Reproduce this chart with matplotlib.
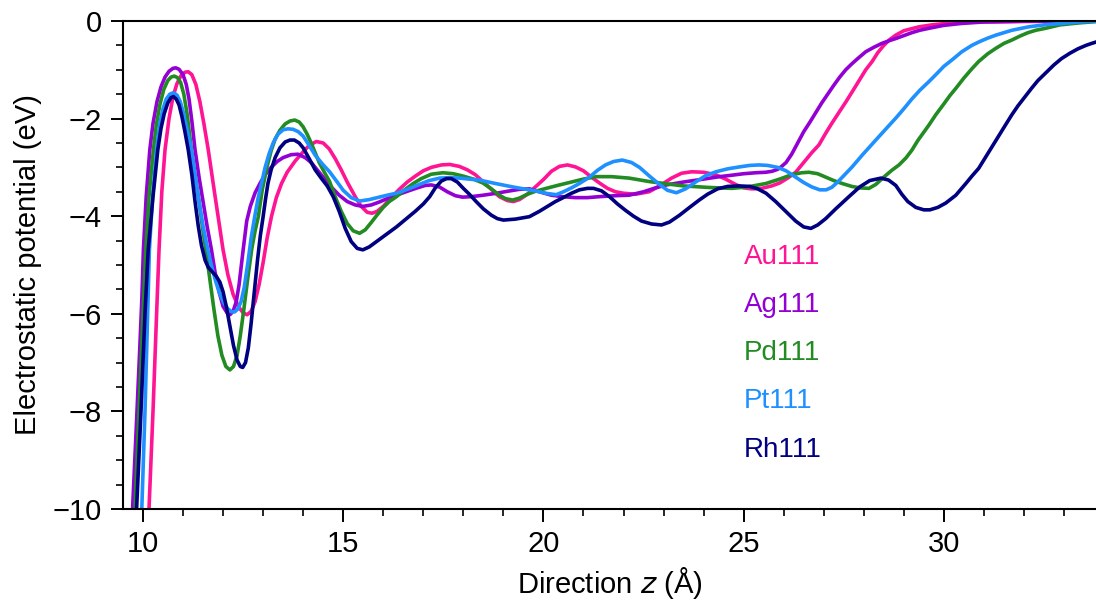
import matplotlib
matplotlib.use('Agg')
import matplotlib.pyplot as plt
from matplotlib.ticker import MultipleLocator

au_z = [10.15, 10.25, 10.34, 10.40, 10.47, 10.55, 10.65, 10.75, 10.85, 10.95, 11.05, 11.13, 11.22, 11.32,
        11.42, 11.52, 11.63, 11.73, 11.82, 11.92, 12.0, 12.12, 12.25, 12.38, 12.5, 12.6, 12.7, 12.8, 12.9,
        13.0, 13.1, 13.21, 13.33, 13.46, 13.6, 13.8, 14.0, 14.15, 14.33, 14.5, 14.65, 14.8, 14.95, 15.1,
        15.3, 15.45, 15.6, 15.72, 15.85, 16.0, 16.2, 16.4, 16.6, 16.8, 17.0, 17.2, 17.45, 17.66, 17.9,
        18.1, 18.3, 18.5, 18.7, 18.9, 19.1, 19.25, 19.4, 19.6, 19.8, 20.0, 20.2, 20.4, 20.6, 20.8, 21.0,
        21.2, 21.4, 21.6, 21.8, 22.0, 22.3, 22.64, 22.9, 23.2, 23.45, 23.7, 24.0, 24.3, 24.55, 24.8, 25.0,
        25.2, 25.45, 25.7, 25.9, 26.1, 26.3, 26.5, 26.7, 26.88, 27.05, 27.2, 27.4, 27.56, 27.75, 27.9,
        28.05, 28.21, 28.35, 28.5, 28.65, 28.8, 29.0, 29.38, 29.7, 30.05, 30.5, 31.0, 32.0, 34.0]
au_v = [-10, -8, -6, -4.7, -3.5, -2.64, -2.0, -1.55, -1.28, -1.12, -1.05, -1.04, -1.1, -1.3,
        -1.65, -2.1, -2.64, -3.2, -3.7, -4.25, -4.69, -5.2, -5.6, -5.85, -5.98, -6.02, -5.95, -5.75, -5.4,
        -4.95, -4.45, -4.0, -3.62, -3.33, -3.1, -2.87, -2.68, -2.55, -2.47, -2.5, -2.62, -2.82, -3.05, -3.3,
        -3.6, -3.8, -3.92, -3.94, -3.9, -3.8, -3.62, -3.45, -3.3, -3.18, -3.07, -3.0, -2.95, -2.94, -2.98,
        -3.05, -3.15, -3.3, -3.45, -3.6, -3.68, -3.70, -3.66, -3.55, -3.4, -3.25, -3.08, -2.98, -2.95, -2.99, -3.07,
        -3.2, -3.32, -3.43, -3.5, -3.53, -3.55, -3.5, -3.38, -3.22, -3.12, -3.09, -3.1, -3.15, -3.24, -3.35, -3.42,
        -3.44, -3.43, -3.38, -3.32, -3.22, -3.1, -2.9, -2.7, -2.54, -2.3, -2.1, -1.85, -1.65, -1.4, -1.2,
        -1.0, -0.83, -0.65, -0.5, -0.38, -0.29, -0.2, -0.12, -0.08, -0.05, -0.03, -0.02, -0.01, 0.0]

ag_z = [9.63, 9.74, 9.85, 9.92, 9.97, 10.01, 10.08, 10.17, 10.25, 10.35, 10.45, 10.55, 10.65, 10.75, 10.82,
        10.9, 11.0, 11.08, 11.15, 11.22, 11.30, 11.4, 11.5, 11.6, 11.71, 11.8, 11.9, 12.0, 12.1, 12.17,
        12.25, 12.33, 12.4, 12.5, 12.59, 12.68, 12.8, 12.92, 13.05, 13.2, 13.35, 13.5, 13.7, 13.87, 14.05,
        14.2, 14.35, 14.5, 14.7, 14.9, 15.1, 15.3, 15.49, 15.7, 15.9, 16.1, 16.33, 16.6, 16.85, 17.05,
        17.2, 17.4, 17.6, 17.8, 17.98, 18.2, 18.5, 18.83, 19.1, 19.4, 19.65, 19.9, 20.2, 20.47, 20.8,
        21.1, 21.4, 21.8, 22.14, 22.5, 22.8, 23.07, 23.5, 24.0, 24.4, 24.71, 25.0, 25.3, 25.55, 25.71,
        25.85, 25.95, 26.06, 26.2, 26.35, 26.5, 26.65, 26.8, 26.95, 27.1, 27.25, 27.4, 27.55, 27.7,
        27.85, 28.05, 28.25, 28.45, 28.65, 28.8, 29.0, 29.2, 29.4, 29.63, 30.0, 30.45, 31.0, 32.0, 34.0]
ag_v = [-12, -10, -8, -6.7, -5.72, -4.69, -3.6, -2.64, -2.1, -1.65, -1.35, -1.15, -1.03, -0.97, -0.96,
        -0.99, -1.1, -1.3, -1.6, -2.05, -2.64, -3.2, -3.7, -4.2, -4.69, -5.15, -5.55, -5.85, -5.98, -6.02,
        -5.95, -5.75, -5.4, -4.7, -4.1, -3.8, -3.52, -3.33, -3.15, -3.0, -2.88, -2.8, -2.74, -2.73, -2.8,
        -2.9, -3.05, -3.2, -3.4, -3.57, -3.7, -3.77, -3.80, -3.77, -3.71, -3.64, -3.57, -3.49, -3.42, -3.37,
        -3.36, -3.40, -3.50, -3.58, -3.61, -3.6, -3.57, -3.53, -3.49, -3.45, -3.44, -3.5, -3.57, -3.60, -3.62,
        -3.62, -3.60, -3.58, -3.57, -3.5, -3.42, -3.36, -3.3, -3.24, -3.19, -3.16, -3.13, -3.11, -3.10, -3.08,
        -3.04, -2.98, -2.9, -2.73, -2.5, -2.27, -2.08, -1.88, -1.68, -1.5, -1.32, -1.15, -1.0, -0.88,
        -0.77, -0.63, -0.54, -0.46, -0.4, -0.36, -0.3, -0.24, -0.19, -0.15, -0.09, -0.05, -0.02, -0.005, 0.0]

pd_z = [9.70, 9.80, 9.9, 10.0, 10.07, 10.15, 10.26, 10.33, 10.42, 10.52, 10.62, 10.7, 10.78, 10.86, 10.94,
        11.02, 11.1, 11.21, 11.3, 11.4, 11.48, 11.57, 11.67, 11.77, 11.87, 11.97, 12.07, 12.17, 12.26, 12.35,
        12.43, 12.52, 12.62, 12.72, 12.8, 12.88, 12.98, 13.1, 13.2, 13.3, 13.42, 13.55, 13.67, 13.79, 13.9,
        14.0, 14.1, 14.2, 14.3, 14.4, 14.53, 14.66, 14.8, 14.95, 15.1, 15.25, 15.41, 15.55, 15.7, 15.85,
        16.0, 16.15, 16.33, 16.55, 16.75, 16.95, 17.2, 17.49, 17.75, 18.0, 18.25, 18.49, 18.7, 18.9, 19.05,
        19.23, 19.4, 19.6, 19.8, 20.07, 20.4, 20.7, 21.0, 21.32, 21.7, 22.14, 22.64, 23.1, 23.5, 24.1,
        24.71, 25.1, 25.56, 25.9, 26.2, 26.45, 26.63, 26.85, 27.05, 27.25, 27.46, 27.7, 27.9, 28.13, 28.3,
        28.5, 28.7, 28.88, 29.05, 29.2, 29.35, 29.5, 29.63, 29.8, 30.0, 30.15, 30.30, 30.5, 30.7, 30.87,
        31.1, 31.3, 31.5, 31.70, 31.9, 32.1, 32.3, 32.54, 32.9, 33.37, 34.0]
pd_v = [-12, -10, -8, -6, -4.69, -3.6, -2.64, -2.15, -1.72, -1.4, -1.22, -1.15, -1.13, -1.16, -1.26,
        -1.5, -1.9, -2.64, -3.15, -3.7, -4.2, -4.69, -5.3, -5.9, -6.45, -6.85, -7.08, -7.15, -7.08, -6.85,
        -6.45, -5.9, -5.25, -4.65, -4.3, -4.01, -3.45, -2.98, -2.66, -2.42, -2.24, -2.11, -2.05, -2.03, -2.07,
        -2.17, -2.32, -2.5, -2.7, -2.9, -3.1, -3.29, -3.6, -3.9, -4.15, -4.3, -4.35, -4.28, -4.13, -3.97,
        -3.82, -3.7, -3.60, -3.45, -3.33, -3.23, -3.14, -3.11, -3.13, -3.18, -3.24, -3.32, -3.44, -3.57, -3.64,
        -3.67, -3.63, -3.55, -3.49, -3.43, -3.36, -3.3, -3.24, -3.19, -3.19, -3.22, -3.29, -3.34, -3.38, -3.41,
        -3.43, -3.4, -3.33, -3.24, -3.15, -3.11, -3.1, -3.13, -3.2, -3.27, -3.33, -3.39, -3.42, -3.43, -3.35,
        -3.2, -3.06, -2.95, -2.81, -2.65, -2.45, -2.28, -2.13, -1.92, -1.7, -1.53, -1.38, -1.17, -0.98, -0.83,
        -0.67, -0.56, -0.46, -0.39, -0.31, -0.24, -0.19, -0.15, -0.08, -0.04, 0.0]

pt_z = [9.85, 9.97, 10.05, 10.1, 10.16, 10.24, 10.34, 10.42, 10.5, 10.58, 10.67, 10.76, 10.85, 10.93, 11.0,
        11.08, 11.15, 11.21, 11.3, 11.4, 11.5, 11.62, 11.72, 11.82, 11.92, 12.02, 12.12, 12.22, 12.29, 12.37,
        12.45, 12.53, 12.62, 12.7, 12.79, 12.87, 12.96, 13.05, 13.15, 13.25, 13.37, 13.5, 13.62, 13.75, 13.88,
        14.0, 14.15, 14.3, 14.48, 14.66, 14.85, 15.0, 15.2, 15.41, 15.65, 15.9, 16.1, 16.33, 16.6, 16.9,
        17.15, 17.41, 17.65, 17.9, 18.15, 18.40, 18.8, 19.23, 19.5, 19.8, 20.05, 20.32, 20.5, 20.7, 20.9,
        21.15, 21.35, 21.55, 21.75, 21.97, 22.2, 22.4, 22.65, 22.9, 23.1, 23.32, 23.55, 23.8, 24.05, 24.31,
        24.6, 24.9, 25.15, 25.39, 25.6, 25.85, 26.06, 26.3, 26.5, 26.7, 26.9, 27.06, 27.2, 27.35, 27.5,
        27.71, 27.96, 28.2, 28.4, 28.6, 28.80, 29.0, 29.2, 29.4, 29.63, 29.8, 30.0, 30.2, 30.45, 30.7,
        30.9, 31.1, 31.30, 31.7, 32.12, 32.5, 32.94, 33.4, 34.0]
pt_v = [-12, -10, -8, -6.5, -4.69, -3.6, -2.64, -2.1, -1.8, -1.6, -1.5, -1.47, -1.52, -1.65, -1.85,
        -2.15, -2.4, -2.64, -3.15, -3.7, -4.2, -4.69, -5.05, -5.35, -5.6, -5.78, -5.9, -5.96, -5.96, -5.9,
        -5.75, -5.45, -4.95, -4.45, -4.01, -3.65, -3.33, -3.0, -2.72, -2.5, -2.32, -2.23, -2.21, -2.22, -2.27,
        -2.36, -2.55, -2.75, -2.93, -3.09, -3.3, -3.47, -3.62, -3.69, -3.66, -3.61, -3.57, -3.53, -3.45, -3.35,
        -3.27, -3.22, -3.21, -3.22, -3.24, -3.26, -3.33, -3.40, -3.44, -3.48, -3.53, -3.56, -3.5, -3.42, -3.33,
        -3.2, -3.06, -2.95, -2.88, -2.85, -2.9, -3.0, -3.18, -3.35, -3.47, -3.52, -3.44, -3.3, -3.17, -3.09,
        -3.03, -2.99, -2.96, -2.95, -2.96, -3.0, -3.07, -3.2, -3.31, -3.4, -3.46, -3.46, -3.41, -3.3, -3.17,
        -2.99, -2.75, -2.53, -2.35, -2.17, -1.99, -1.8, -1.6, -1.42, -1.24, -1.1, -0.93, -0.8, -0.63, -0.5,
        -0.42, -0.35, -0.29, -0.19, -0.12, -0.08, -0.05, -0.02, 0.0]

rh_z = [9.73, 9.84, 9.95, 10.05, 10.13, 10.25, 10.37, 10.45, 10.53, 10.62, 10.7, 10.76, 10.83, 10.9, 10.97,
        11.05, 11.13, 11.22, 11.3, 11.38, 11.46, 11.55, 11.63, 11.72, 11.82, 11.92, 12.0, 12.08, 12.17, 12.26,
        12.35, 12.43, 12.49, 12.56, 12.63, 12.7, 12.78, 12.86, 12.93, 13.0, 13.06, 13.12, 13.2, 13.3, 13.42,
        13.55, 13.67, 13.78, 13.9, 14.0, 14.15, 14.3, 14.45, 14.6, 14.75, 14.9, 15.05, 15.2, 15.35, 15.49,
        15.65, 15.8, 15.95, 16.15, 16.33, 16.55, 16.8, 17.0, 17.16, 17.3, 17.45, 17.58, 17.7, 17.85, 18.0,
        18.15, 18.32, 18.5, 18.7, 18.85, 19.0, 19.3, 19.65, 19.9, 20.1, 20.3, 20.47, 20.7, 20.9, 21.1,
        21.25, 21.45, 21.65, 21.85, 22.05, 22.25, 22.45, 22.7, 22.95, 23.15, 23.4, 23.65, 23.89, 24.1, 24.35,
        24.6, 24.88, 25.15, 25.35, 25.56, 25.8, 26.05, 26.3, 26.5, 26.68, 26.85, 27.05, 27.3, 27.63, 27.9,
        28.15, 28.43, 28.62, 28.8, 28.95, 29.1, 29.3, 29.5, 29.65, 29.85, 30.05, 30.30, 30.55, 30.7, 30.87,
        31.05, 31.2, 31.35, 31.54, 31.7, 31.85, 32.0, 32.19, 32.35, 32.55, 32.75, 32.94, 33.15, 33.35, 33.55,
        33.69, 34.0]
rh_v = [-12, -10, -8, -6, -4.69, -3.6, -2.64, -2.2, -1.9, -1.68, -1.57, -1.55, -1.6, -1.72, -1.95,
        -2.28, -2.64, -3.15, -3.7, -4.2, -4.6, -4.9, -5.05, -5.13, -5.22, -5.35, -5.55, -5.85, -6.25, -6.65,
        -6.95, -7.08, -7.10, -7.0, -6.7, -6.2, -5.55, -4.9, -4.4, -4.01, -3.65, -3.33, -3.05, -2.8, -2.6,
        -2.48, -2.44, -2.44, -2.5, -2.6, -2.82, -3.05, -3.22, -3.38, -3.6, -3.9, -4.25, -4.52, -4.66, -4.69,
        -4.63, -4.54, -4.45, -4.33, -4.22, -4.07, -3.9, -3.75, -3.60, -3.42, -3.28, -3.23, -3.23, -3.3, -3.43,
        -3.55, -3.70, -3.85, -3.98, -4.05, -4.08, -4.06, -4.01, -3.9, -3.8, -3.7, -3.63, -3.53, -3.46, -3.43,
        -3.43, -3.48, -3.6, -3.75, -3.88, -4.0, -4.1, -4.16, -4.18, -4.12, -3.98, -3.82, -3.67, -3.55, -3.44,
        -3.39, -3.38, -3.39, -3.44, -3.53, -3.7, -3.9, -4.1, -4.22, -4.25, -4.18, -4.05, -3.85, -3.60, -3.4,
        -3.27, -3.22, -3.26, -3.37, -3.55, -3.7, -3.82, -3.87, -3.87, -3.82, -3.73, -3.57, -3.33, -3.18, -3.02,
        -2.78, -2.58, -2.38, -2.13, -1.92, -1.74, -1.58, -1.38, -1.22, -1.06, -0.9, -0.77, -0.66, -0.57, -0.5,
        -0.46, -0.38]

names = ['Au111', 'Ag111', 'Pd111', 'Pt111', 'Rh111']
colors = ['#FF1493', '#9400D3', '#228B22', '#1E90FF', '#000080']
label_y = [-4.84, -5.82, -6.80, -7.79, -8.79]


def main():
    plt.rcParams['font.family'] = ['Liberation Sans', 'DejaVu Sans']
    fig = plt.figure(figsize=(10.96, 6.01), dpi=100)
    ax = fig.add_axes([0.1122, 0.1531, 0.8878, 0.812])

    series = [(au_z, au_v), (ag_z, ag_v), (pd_z, pd_v), (pt_z, pt_v), (rh_z, rh_v)]
    for (z, v), c in zip(series, colors):
        ax.plot(z, v, color=c, lw=2.6, solid_capstyle='round', solid_joinstyle='round')

    # coloured text instead of a legend box
    for name, c, y in zip(names, colors, label_y):
        ax.text(25.0, y, name, color=c, fontsize=20, va='center', ha='left')

    ax.set_xlim(9.5, 33.8)
    ax.set_ylim(-10, 0)
    ax.xaxis.set_major_locator(MultipleLocator(5))
    ax.xaxis.set_minor_locator(MultipleLocator(1))
    ax.yaxis.set_major_locator(MultipleLocator(2))
    ax.yaxis.set_minor_locator(MultipleLocator(0.5))
    ax.tick_params(which='major', direction='out', length=9, width=1.4, labelsize=21, pad=6)
    ax.tick_params(which='minor', direction='out', length=5, width=1.2)
    ax.spines['right'].set_visible(False)
    for s in ['left', 'bottom', 'top']:
        ax.spines[s].set_linewidth(1.5)

    ax.set_xlabel('Direction $z$ (Å)', fontsize=21, labelpad=5)
    ax.set_ylabel('Electrostatic potential (eV)', fontsize=21, labelpad=8)

    fig.savefig('out.png', dpi=100)


if __name__ == '__main__':
    main()
